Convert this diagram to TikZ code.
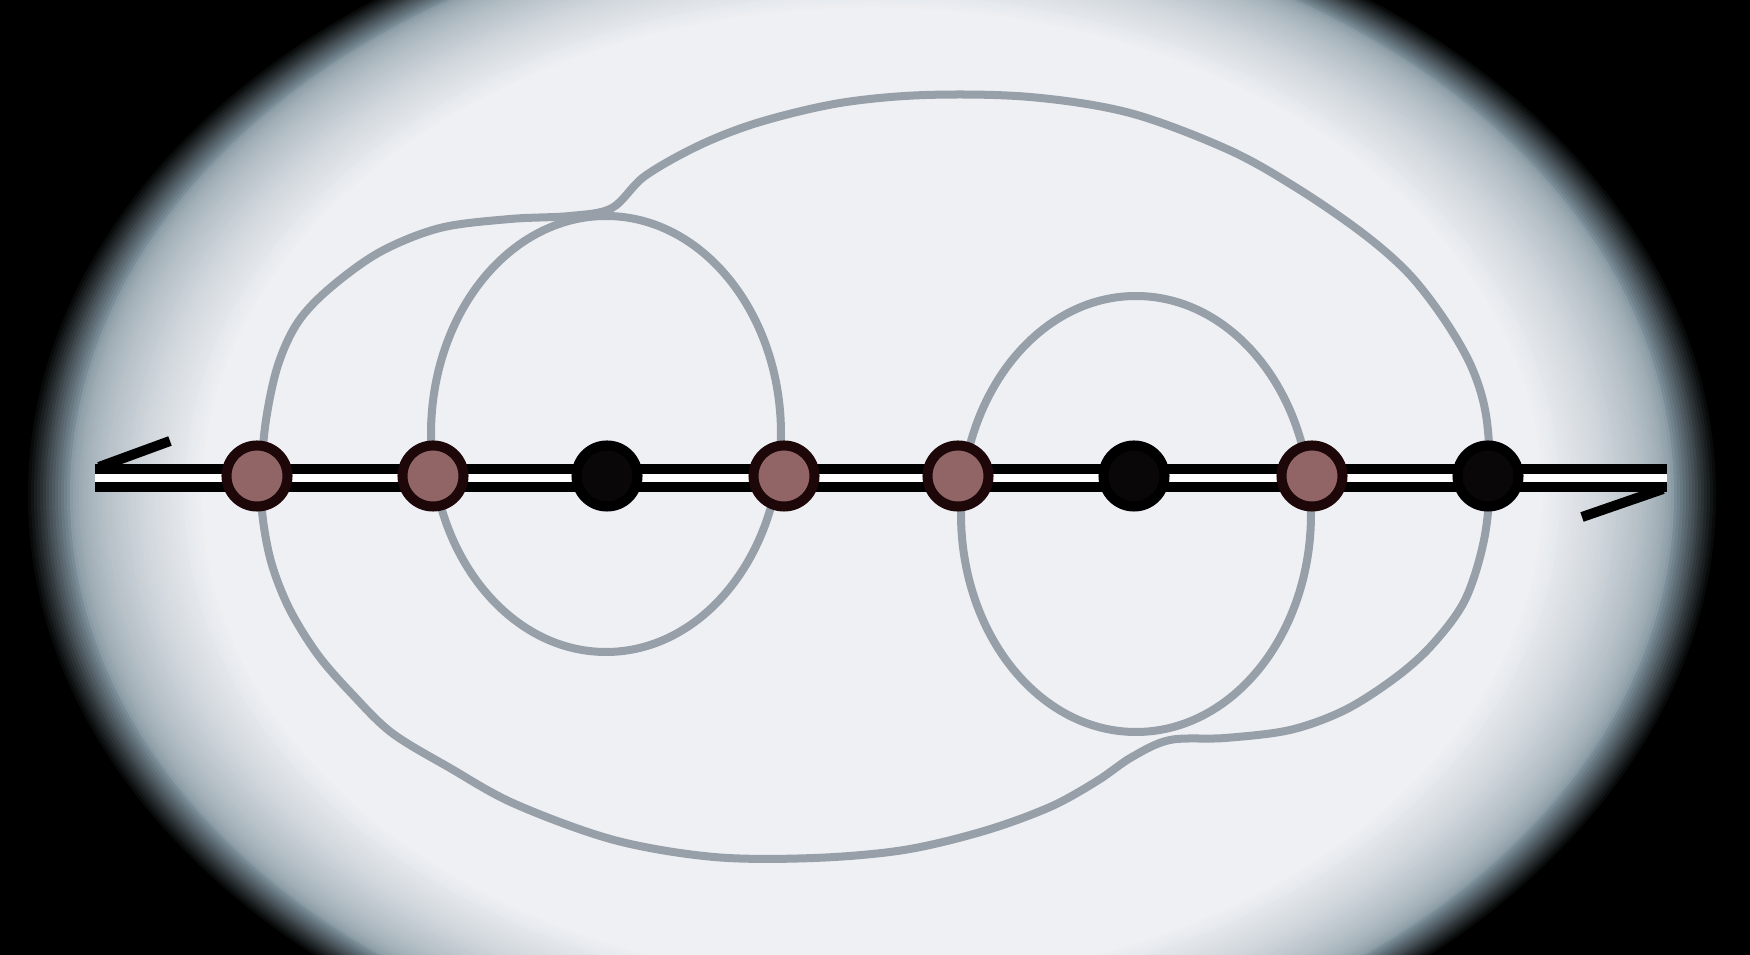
\documentclass[tikz,border=0pt]{standalone}
\definecolor{bgin}{HTML}{EEF0F4}
\definecolor{bgm}{HTML}{7A8D97}
\definecolor{loopgray}{HTML}{979FA8}
\definecolor{beadfill}{HTML}{916466}
\definecolor{beadedge}{HTML}{1E0709}
\definecolor{darkbead}{HTML}{0A0708}
\tikzset{
  loopline/.style={draw=loopgray, line width=0.8mm},
  bead/.style={circle, draw=beadedge, fill=beadfill, line width=1mm, minimum size=6.1mm, inner sep=0pt},
  darkbeadst/.style={circle, draw=black, fill=darkbead, line width=1mm, minimum size=6.1mm, inner sep=0pt},
  strand/.style={draw=black, line width=1mm, double=white, double distance=0.8mm},
  barb/.style={draw=black, line width=1mm},
}
\begin{document}
\begin{tikzpicture}[x=0.01cm,y=-0.01cm]
\useasboundingbox (0,0) rectangle (1750,955);
\clip (0,0) rectangle (1750,955);
% vignette background
\fill[black] (0,0) rectangle (1750,955);
\coordinate (vc) at (872,495);
\foreach \d in {42,39,...,0}{
  \pgfmathtruncatemacro{\p}{100*(42-\d)/42}
  \pgfmathsetmacro{\rx}{805+\d}
  \pgfmathsetmacro{\ry}{585+0.72*\d}
  \fill[bgm!\p!black] (vc) ellipse [x radius=\rx, y radius=\ry];
}
\foreach \d in {3,6,...,135}{
  \pgfmathtruncatemacro{\p}{100*sqrt(\d/135)}
  \pgfmathsetmacro{\rx}{805-\d}
  \pgfmathsetmacro{\ry}{585-0.72*\d}
  \fill[bgin!\p!bgm] (vc) ellipse [x radius=\rx, y radius=\ry];
}

% loops
\coordinate (cA) at (606,434);
\coordinate (cD) at (1136,514);
\draw[loopline] (cA) ellipse [x radius=175, y radius=218];
\draw[loopline] (cD) ellipse [x radius=175, y radius=218];
\draw[loopline] plot[smooth cycle, tension=0.55] coordinates {
 (261,478) (266,420) (278,365) (298,322) (330,288) (380,252) (440,228) (510,219)
 (570,216) (612,208) (645,176) (700,145) (760,122) (840,103) (926,95) (1030,97)
 (1130,113) (1229,150) (1300,190) (1365,235) (1410,275) (1446,322) (1472,368)
 (1486,415) (1490,478) (1484,540) (1465,600) (1432,645) (1395,678) (1345,710)
 (1290,730) (1225,738) (1170,740) (1132,757) (1097,781) (1050,807) (984,831)
 (904,850) (814,858) (714,857) (614,840) (515,804) (450,768) (392,733) (352,694)
 (318,655) (290,610) (272,565) (263,520)};

% strand
\coordinate (L) at (95,478);
\coordinate (R) at (1667,478);
\coordinate (Lt) at (99,467);
\coordinate (Lb) at (170,441);
\coordinate (Rt) at (1663,489);
\coordinate (Rb) at (1582,517);
\draw[strand] (L) -- (R);
\draw[barb] (Lt) -- (Lb);
\draw[barb] (Rt) -- (Rb);

% beads
\node[bead] (b1) at (257,476) {};
\node[bead] (b2) at (433,476) {};
\node[darkbeadst] (b3) at (607,476) {};
\node[bead] (b4) at (784,476) {};
\node[bead] (b5) at (958,476) {};
\node[darkbeadst] (b6) at (1134,476) {};
\node[bead] (b7) at (1312,476) {};
\node[darkbeadst] (b8) at (1488,476) {};
\end{tikzpicture}
\end{document}
